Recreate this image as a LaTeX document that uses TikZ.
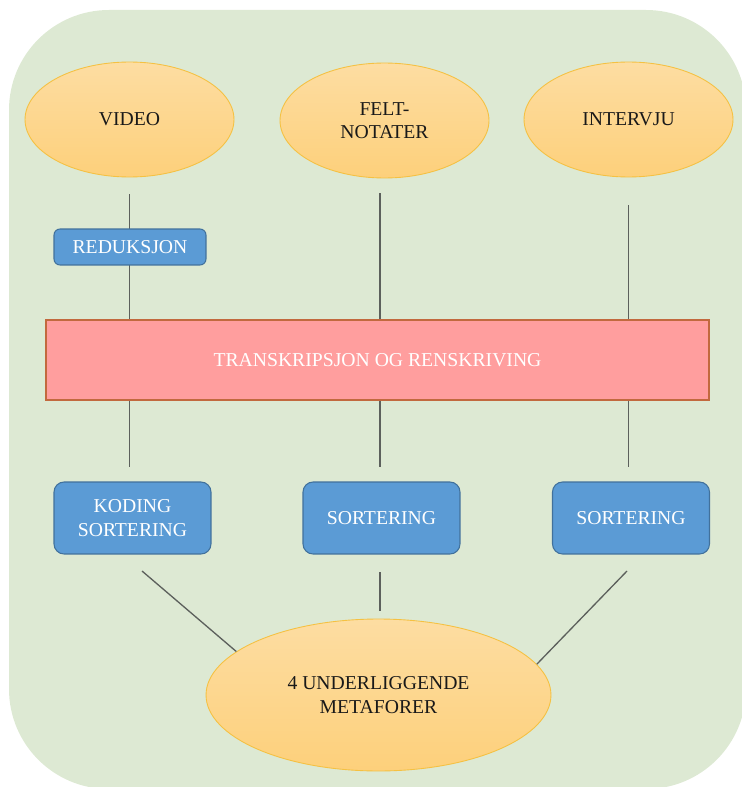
\documentclass[tikz,border=0pt]{standalone}
\usepackage{fontspec}
\setmainfont{Liberation Serif}
\usetikzlibrary{shapes.geometric}

\definecolor{bggreen}{HTML}{DDE9D3}
\definecolor{ovaltop}{HTML}{FDDDA2}
\definecolor{ovalbot}{HTML}{FDD07B}
\definecolor{ovalline}{HTML}{F5C142}
\definecolor{boxblue}{HTML}{5B9BD5}
\definecolor{boxline}{HTML}{41719C}
\definecolor{barpink}{HTML}{FF9E9E}
\definecolor{barline}{HTML}{C2693E}
\definecolor{linkgray}{HTML}{5C605C}

\newcommand{\labelfont}{\fontsize{11.2}{13.2}\selectfont}

\begin{document}
\begin{tikzpicture}[x=0.02cm, y=-0.02cm,
  bubble/.style={ellipse, draw=ovalline, line width=0.5pt, top color=ovaltop, bottom color=ovalbot,
    inner sep=0pt, align=center, font=\labelfont, text=black!90},
  stepbox/.style={rectangle, rounded corners=0.2cm, draw=boxline, line width=0.6pt, fill=boxblue,
    inner sep=0pt, align=center, font=\labelfont, text=white, minimum width=3.14cm, minimum height=1.44cm},
  link/.style={linkgray, line width=0.75pt}]

\useasboundingbox (0,0) rectangle (741,787);
\fill[bggreen, rounded corners=2cm] (9,10) rectangle (746,789);

% kilder
\node[bubble, minimum width=4.18cm, minimum height=2.3cm] (video) at (129.5,119.5) {VIDEO};
\node[bubble, minimum width=4.18cm, minimum height=2.3cm] (felt) at (384.5,120.5) {FELT-\\NOTATER};
\node[bubble, minimum width=4.18cm, minimum height=2.3cm] (intervju) at (628.5,119.5) {INTERVJU};

\node[rectangle, draw=barline, line width=0.8pt, fill=barpink, minimum width=13.26cm, minimum height=1.6cm,
  font=\labelfont, text=white] (trans) at (377.5,360) {TRANSKRIPSJON OG RENSKRIVING};

\draw[link, shorten <=0.34cm] (video.south) -- (video.south |- trans.north);
\draw[link, shorten <=0.3cm] ([xshift=-0.09cm]felt.south) -- ([xshift=-0.09cm]felt.south |- trans.north);
\draw[link, shorten <=0.56cm] (intervju.south) -- (intervju.south |- trans.north);

\node[stepbox, rounded corners=0.12cm, minimum width=3.04cm, minimum height=0.72cm] (reduksjon) at (130,247) {REDUKSJON};

% bearbeiding
\node[stepbox] (koding) at (132.5,518) {KODING\\SORTERING};
\node[stepbox] (sort2) at (381.5,518) {SORTERING};
\node[stepbox] (sort3) at (631,518) {SORTERING};

\draw[link, shorten >=0.28cm] (video.south |- trans.south) -- (video.south |- koding.north);
\draw[link, shorten >=0.28cm] ([xshift=-0.09cm]felt.south |- trans.south) -- ([xshift=-0.09cm]felt.south |- sort2.north);
\draw[link, shorten >=0.28cm] (intervju.south |- trans.south) -- (intervju.south |- sort3.north);

\node[bubble, minimum width=6.9cm, minimum height=3.04cm] (meta) at (378.5,695) {4 UNDERLIGGENDE\\METAFORER};

\coordinate (k1) at (142,571);
\coordinate (k2) at (380,572);
\coordinate (k3) at (627,571);
\draw[link] (k1) -- (meta.163);
\draw[link, shorten >=0.16cm] (k2) -- (k2 |- meta.north);
\draw[link] (k3) -- (meta.11);

\end{tikzpicture}
\end{document}
